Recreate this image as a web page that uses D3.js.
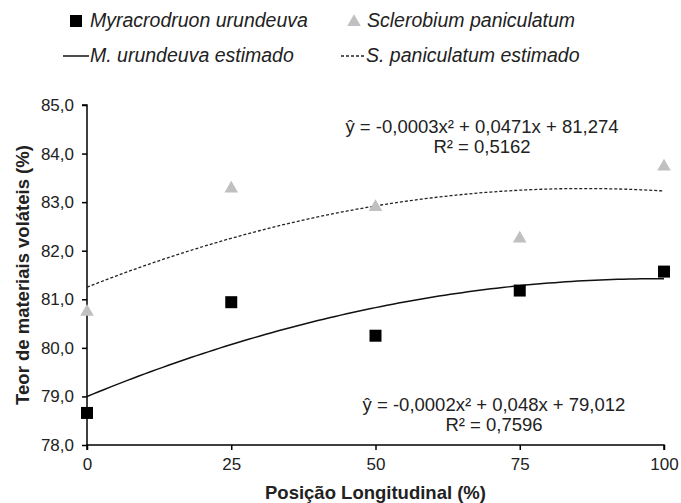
<!DOCTYPE html>
<html><head><meta charset="utf-8">
<script src="https://cdn.jsdelivr.net/npm/d3@7"></script>
<style>body{margin:0;background:#fff}svg{display:block}text{font-family:"Liberation Sans",Arial,sans-serif}</style>
</head><body>
<script>
const positions = [0, 25, 50, 75, 100];
const myracrodruon = [78.66, 80.94, 80.25, 81.18, 81.57];
const sclerobium = [80.74, 83.28, 82.90, 82.25, 83.73];
const yTicks = [78, 79, 80, 81, 82, 83, 84, 85];
const xTicks = [0, 25, 50, 75, 100];
const seriesNames = ["Myracrodruon urundeuva", "Sclerobium paniculatum", "M. urundeuva estimado", "S. paniculatum estimado"];
const eqS = ["ŷ = -0,0003x² + 0,0471x + 81,274", "R² = 0,5162"];
const eqM = ["ŷ = -0,0002x² + 0,048x + 79,012", "R² = 0,7596"];

const W = 681, H = 503;
const svg = d3.select("body").append("svg").attr("width", W).attr("height", H);
const x = d3.scaleLinear().domain([0, 100]).range([87, 664]);
const y = d3.scaleLinear().domain([78, 85]).range([445, 105]);

// quadratic least squares fit
function quadFit(xs, ys) {
  let S = [0,0,0,0,0], T = [0,0,0];
  xs.forEach((xi, i) => {
    for (let k = 0; k < 5; k++) S[k] += Math.pow(xi, k);
    for (let k = 0; k < 3; k++) T[k] += Math.pow(xi, k) * ys[i];
  });
  const A = [[S[0],S[1],S[2],T[0]],[S[1],S[2],S[3],T[1]],[S[2],S[3],S[4],T[2]]];
  for (let i = 0; i < 3; i++) {
    for (let j = i+1; j < 3; j++) {
      const f = A[j][i]/A[i][i];
      for (let k = i; k < 4; k++) A[j][k] -= f*A[i][k];
    }
  }
  const c = [0,0,0];
  for (let i = 2; i >= 0; i--) {
    let s = A[i][3];
    for (let k = i+1; k < 3; k++) s -= A[i][k]*c[k];
    c[i] = s/A[i][i];
  }
  return v => c[0] + c[1]*v + c[2]*v*v;
}
const fM = quadFit(positions, myracrodruon);
const fS = quadFit(positions, sclerobium);
const samples = d3.range(0, 100.01, 1);
const line = f => d3.line().x(d => x(d)).y(d => y(f(d)))(samples);

// axes
const yAxis = svg.append("g").attr("transform", `translate(${x(0)},0)`)
  .call(d3.axisLeft(y).tickValues(yTicks).tickSize(5).tickPadding(8)
    .tickFormat(d => d3.format(".1f")(d).replace(".", ",")));
const xAxis = svg.append("g").attr("transform", `translate(0,${y(78)})`)
  .call(d3.axisBottom(x).tickValues(xTicks).tickSize(5).tickPadding(8));
[yAxis, xAxis].forEach(a => {
  a.select(".domain").attr("stroke", "#000").attr("stroke-width", 1.5);
  a.selectAll(".tick line").attr("stroke", "#000").attr("stroke-width", 1.5);
  a.selectAll("text").attr("font-size", 17).attr("fill", "#222").attr("font-family", "Liberation Sans, Arial, sans-serif");
});
yAxis.select(".domain").attr("d", `M-5,${y(85)}H0V${y(78)}`);
xAxis.select(".domain").attr("d", `M${x(0)},5V0H${x(100)}V5`);

// trend lines
svg.append("path").attr("d", line(fS)).attr("fill", "none").attr("stroke", "#222")
  .attr("stroke-width", 1.3).attr("stroke-dasharray", "3,2");
svg.append("path").attr("d", line(fM)).attr("fill", "none").attr("stroke", "#111")
  .attr("stroke-width", 1.5);

// markers
const tri = d3.symbol().type(d3.symbolTriangle).size(80);
svg.selectAll(".tri").data(positions).enter().append("path")
  .attr("d", tri).attr("fill", "#c0c0c0")
  .attr("transform", (d, i) => `translate(${x(d)},${y(sclerobium[i])})`);
svg.selectAll(".sq").data(positions).enter().append("rect")
  .attr("x", d => x(d) - 6).attr("y", (d, i) => y(myracrodruon[i]) - 6)
  .attr("width", 12).attr("height", 12).attr("fill", "#000");

// equations
const eqG = svg.append("g").attr("font-size", 18.5).attr("fill", "#222").attr("text-anchor", "middle");
eqS.forEach((t, i) => eqG.append("text").attr("x", 482).attr("y", 133 + i * 20).text(t));
eqM.forEach((t, i) => eqG.append("text").attr("x", 494).attr("y", 411 + i * 20).text(t));

// legend
const lg = svg.append("g").attr("font-size", 19.5).attr("font-style", "italic").attr("fill", "#222");
lg.append("rect").attr("x", 70).attr("y", 15).attr("width", 12).attr("height", 12).attr("fill", "#000");
lg.append("text").attr("x", 90).attr("y", 27).text(seriesNames[0]);
lg.append("path").attr("d", tri).attr("fill", "#c0c0c0").attr("transform", "translate(354,22)");
lg.append("text").attr("x", 367).attr("y", 27).text(seriesNames[1]);
lg.append("line").attr("x1", 63).attr("x2", 89).attr("y1", 56).attr("y2", 56).attr("stroke", "#111").attr("stroke-width", 1.5);
lg.append("text").attr("x", 90).attr("y", 62).text(seriesNames[2]);
lg.append("line").attr("x1", 341).attr("x2", 365).attr("y1", 56).attr("y2", 56).attr("stroke", "#222").attr("stroke-width", 1.3).attr("stroke-dasharray", "3,2");
lg.append("text").attr("x", 366).attr("y", 62).text(seriesNames[3]);

// axis titles
svg.append("text").attr("x", (x(0) + x(100)) / 2).attr("y", 499).attr("text-anchor", "middle")
  .attr("font-size", 18.5).attr("font-weight", "bold").attr("fill", "#222").text("Posição Longitudinal (%)");
svg.append("text").attr("transform", `translate(29,${(y(78) + y(85)) / 2}) rotate(-90)`).attr("text-anchor", "middle")
  .attr("font-size", 18.5).attr("font-weight", "bold").attr("fill", "#222").text("Teor de materiais voláteis (%)");
</script>
</body></html>
